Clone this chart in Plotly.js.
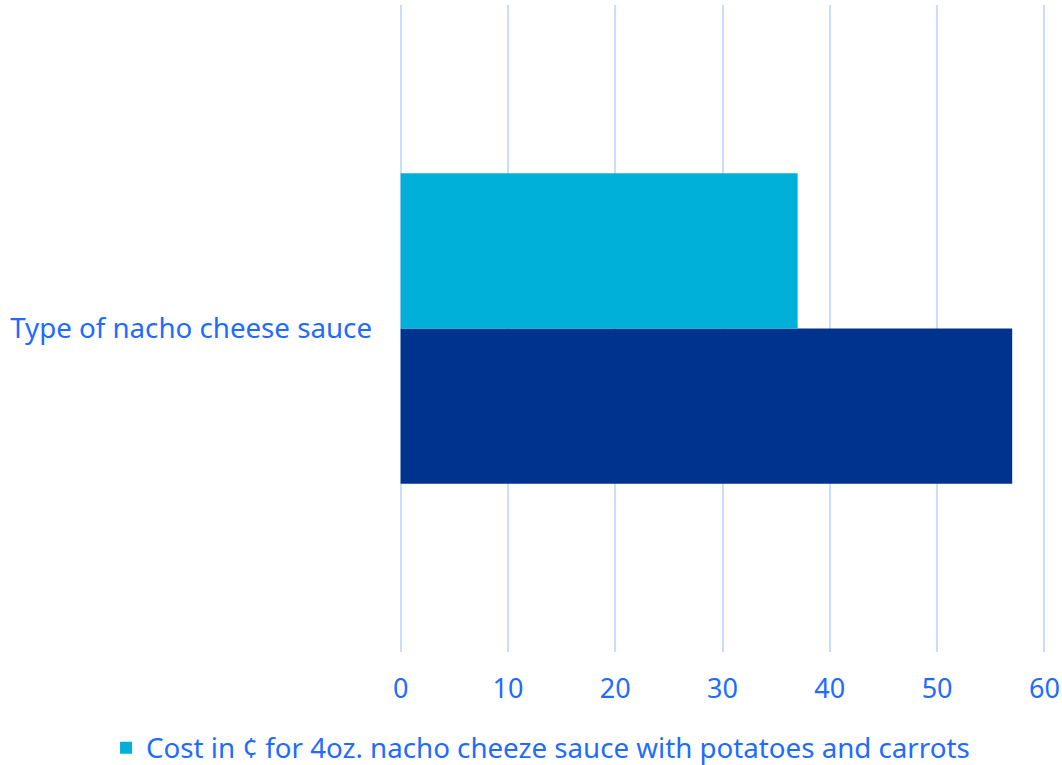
<!DOCTYPE html>
<html>
<head>
<meta charset="utf-8">
<script src="https://cdn.plot.ly/plotly-3.0.1.min.js"></script>
<style>html,body{margin:0;padding:0;background:#fff;}#chart{width:1062px;height:765px;}</style>
</head>
<body>
<div id="chart"></div>
<script>
const categories = ["Type of nacho cheese sauce"];
const seriesNames = ["Cost in ¢ for 4oz. nacho cheeze sauce with potatoes and carrots", "Cost in ¢ for 4oz. nacho cheeze sauce"];
const lightValues = [37];
const darkValues = [57];
const xTicks = [0, 10, 20, 30, 40, 50, 60];

const textColor = "#1f6bff";
const font = {family: "Noto Sans, Open Sans, sans-serif", size: 27.7, color: textColor};

const traces = [
  {type: "bar", orientation: "h", y: categories, x: darkValues, name: seriesNames[1],
   marker: {color: "#00338d"}, showlegend: false, hoverinfo: "x"},
  {type: "bar", orientation: "h", y: categories, x: lightValues, name: seriesNames[0],
   marker: {color: "#00b0d8"}, hoverinfo: "x"}
];

const layout = {
  width: 1062, height: 765,
  margin: {l: 399, r: 16, t: 5, b: 113, autoexpand: false},
  paper_bgcolor: "#fff", plot_bgcolor: "#fff",
  barmode: "group", bargap: 0.52, bargroupgap: 0,
  font: font,
  xaxis: {range: [-0.15, 60.15], tickvals: xTicks, ticktext: xTicks.map(String),
          showgrid: true, gridcolor: "#c9dcff", gridwidth: 2, zeroline: false,
          showline: false, ticks: "", ticklabelstandoff: 18, fixedrange: true,
          tickfont: {size: 27}},
  yaxis: {showgrid: false, zeroline: false, showline: false, ticks: "",
          ticklabelstandoff: 26, fixedrange: true},
  legend: {orientation: "h", xref: "container", yref: "container",
           x: 0.509, xanchor: "center", y: 0.022, yanchor: "middle",
           font: font, itemwidth: 30},
  showlegend: true
};

Plotly.newPlot("chart", traces, layout, {displayModeBar: false, staticPlot: true});
</script>
</body>
</html>
